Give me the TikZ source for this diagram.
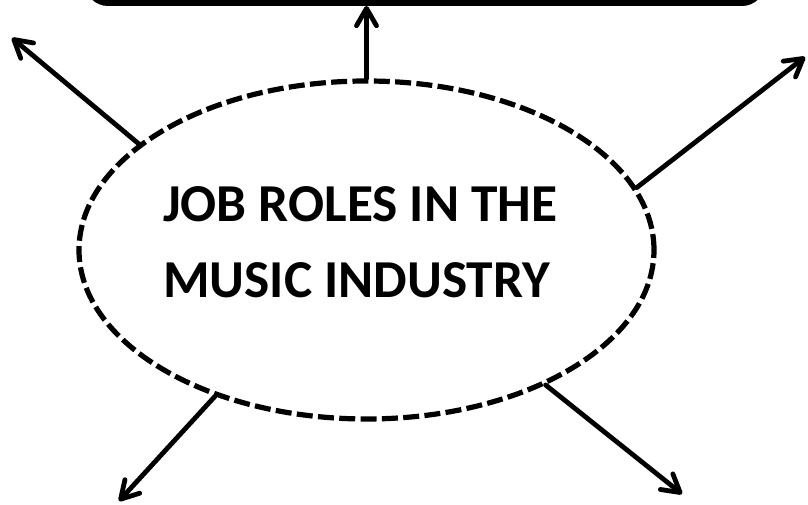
\documentclass[tikz,border=0pt]{standalone}
\usepackage{fontspec}
\setmainfont{Carlito}
\usetikzlibrary{arrows.meta,shapes.geometric}
\begin{document}
\begin{tikzpicture}[x=0.75pt,y=-0.75pt,
  conn/.style={line width=3.6pt, line cap=round,
    -{Straight Barb[length=13pt,width=15pt,line width=3.6pt,line cap=round,line join=round]}},
  hubstyle/.style={draw, ellipse, line width=3.9pt, dash pattern=on 12pt off 4pt,
    minimum width=431.25pt, minimum height=253.5pt, inner sep=0pt},
  topbox/.style={draw, line width=4.5pt, rounded corners=15pt,
    minimum width=505.5pt, minimum height=62.25pt, inner sep=0pt},
  title/.style={font=\fontsize{40pt}{57pt}\selectfont\bfseries, align=left, inner sep=0pt}
  ]
\useasboundingbox (0,0) rectangle (808,505);
\node[topbox] (top) at (425,-38.5) {};
\node[hubstyle] (hub) at (366.5,250) {};
\node[title, anchor=north west] (label) at (163,186) {JOB ROLES IN THE\\MUSIC INDUSTRY};
\coordinate (ul) at (12,38);
\coordinate (ur) at (805,57);
\coordinate (lr) at (682,494);
\coordinate (ll) at (119,501);
\draw[conn] (hub.north) -- (hub.north |- top.south);
\draw[conn] (hub.155.1) -- (ul);
\draw[conn] (hub.13.8) -- (ur);
\draw[conn] (hub.-37) -- (lr);
\draw[conn] (hub.224.7) -- (ll);
\end{tikzpicture}
\end{document}
